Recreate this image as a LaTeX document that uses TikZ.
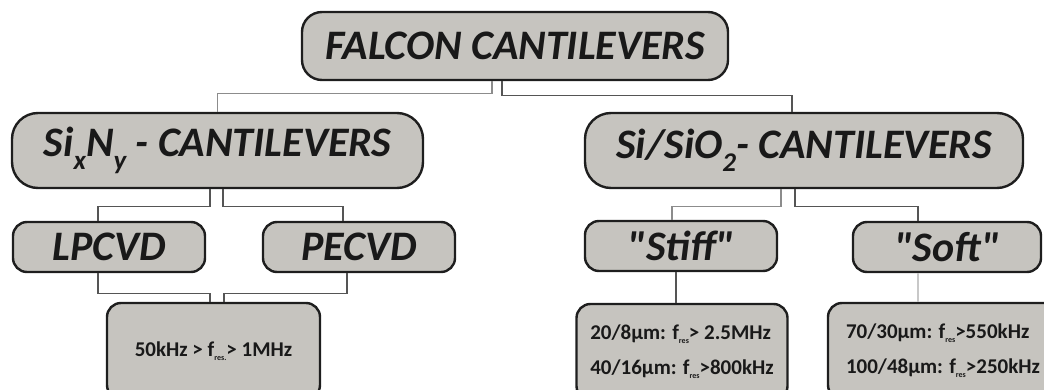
\documentclass[tikz,border=0pt]{standalone}
\usepackage{fontspec}
\setmainfont{Carlito}[Ligatures=TeXOff]
\definecolor{boxgray}{RGB}{198,196,191}
\definecolor{edge}{RGB}{30,30,30}
\definecolor{conndark}{RGB}{85,85,85}
\definecolor{connlight}{RGB}{200,200,200}
\definecolor{connmid}{RGB}{140,140,140}
\newcommand\bigsub[1]{\raisebox{-0.3em}{\fontsize{27}{27}\selectfont #1}}
\newcommand\ressub[1]{\raisebox{-0.2em}{\fontsize{8}{8}\selectfont #1}}
\tikzset{
  hbox/.style={draw=edge, line width=2.4pt, fill=boxgray, rounded corners=20pt,
    inner sep=0pt, text=black!90, font=\fontsize{42}{46}\selectfont\bfseries\itshape},
  sbox/.style={draw=edge, line width=2.4pt, fill=boxgray, rounded corners=14pt,
    inner sep=0pt, text=black!90, font=\fontsize{42}{46}\selectfont\bfseries\itshape},
  dbox/.style={draw=edge, line width=2.4pt, fill=boxgray, rounded corners=14pt,
    inner sep=0pt, align=left, text=black!90, font=\fontsize{21}{35}\selectfont\bfseries},
  conn/.style={draw=conndark, line width=1.1pt},
  connl/.style={draw=connlight, line width=1.1pt},
  connm/.style={draw=connmid, line width=1.1pt}
}
\begin{document}
\begin{tikzpicture}[x=1pt,y=-1pt]
\useasboundingbox (0,0) rectangle (1044,390);
\clip (0,0) rectangle (1044,390);
% nodes
\node[hbox, minimum width=426pt, minimum height=68pt] (top) at (515,46) {FALCON CANTILEVERS};
\node[hbox, minimum width=411pt, minimum height=75pt, rounded corners=26pt] (sin) at (217.5,150.5) {Si\bigsub{x}N\bigsub{y} - CANTILEVERS};
\node[hbox, minimum width=438pt, minimum height=75pt, rounded corners=26pt] (sio) at (804,150.5) {Si/SiO\bigsub{2}- CANTILEVERS};
\node[sbox, minimum width=192pt, minimum height=50pt] (lp) at (109,247) {LPCVD};
\node[sbox, minimum width=192pt, minimum height=50pt] (pe) at (359,247) {PECVD};
\node[sbox, minimum width=192pt, minimum height=50pt] (st) at (681,246) {"Stiff"};
\node[sbox, minimum width=188pt, minimum height=50pt] (so) at (947,247) {"Soft"};
\node[dbox, minimum width=213pt, minimum height=96pt] (b1) at (213.5,351) {50kHz > f\ressub{res.}> 1MHz};
\node[dbox, minimum width=211pt, minimum height=96pt] (b2) at (682,352) {20/8μm: f\ressub{res}> 2.5MHz\\40/16μm: f\ressub{res}>800kHz};
\node[dbox, minimum width=230pt, minimum height=96pt] (b3) at (943,351) {70/30μm: f\ressub{res}>550kHz\\100/48μm: f\ressub{res}>250kHz};
% connectors
\draw[connm] ([xshift=-23pt]top.south) -- ++(0,12) -| (sin.north);
\draw[conn] ([xshift=-13pt]top.south) -- ++(0,14) -| ([xshift=-12pt]sio.north);
\draw[conn] ([xshift=-7.5pt]sin.south) -- ++(0,17) -| ([xshift=-11pt]lp.north);
\draw[conn] ([xshift=5.5pt]sin.south) -- ++(0,17) -| ([xshift=-16pt]pe.north);
\draw[conn] ([xshift=-11pt]lp.south) -- ++(0,20) -| ([xshift=-3.5pt]b1.north);
\draw[conn] ([xshift=-12pt]pe.south) -- ++(0,20) -| ([xshift=10.5pt]b1.north);
\draw[connm] ([xshift=-23pt]sio.south) -- ++(0,17) -| ([xshift=-9pt]st.north);
\draw[conn] ([xshift=-9pt]sio.south) -- ++(0,17) -| ([xshift=-29pt]so.north);
\draw[conn] ([xshift=-5pt]st.south) -- ([xshift=-5pt]st.south |- b2.north);
\draw[connl] ([xshift=-29pt]so.south) -- ([xshift=-29pt]so.south |- b3.north);
\end{tikzpicture}
\end{document}
